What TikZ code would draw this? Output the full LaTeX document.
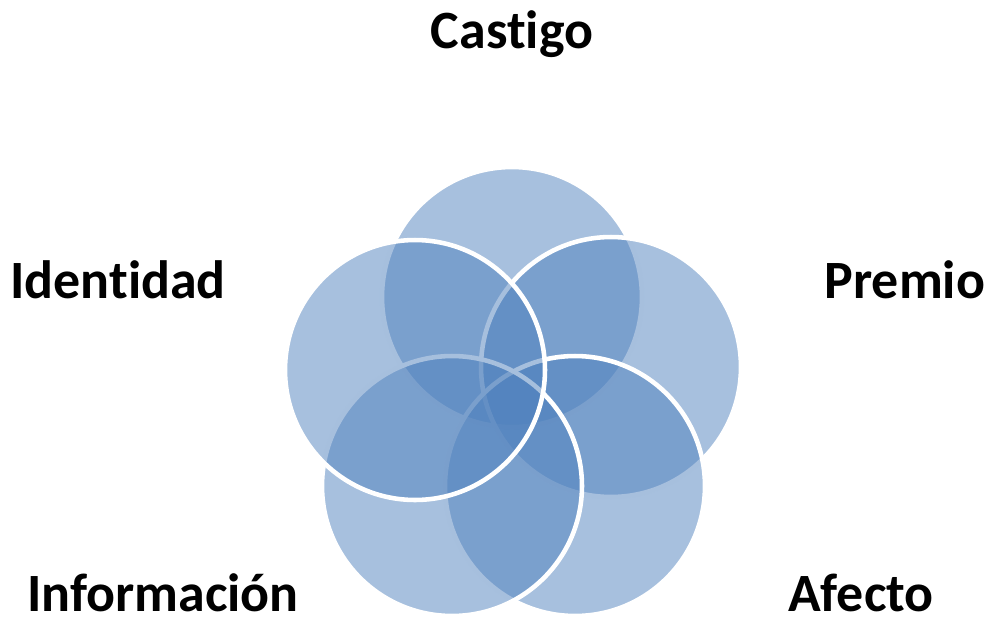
\documentclass[tikz,border=0pt]{standalone}
\usepackage{fontspec}
\setmainfont[Ligatures={NoCommon}]{Carlito}
\definecolor{petalblue}{HTML}{4F81BD}

\begin{document}
\begin{tikzpicture}[x=0.02cm, y=-0.02cm,
    petal/.style ={circle, draw=white, line width=2.6pt, fill=petalblue,
      fill opacity=0.5, minimum size=5.2cm, inner sep=0pt},
    tag/.style ={anchor=base, inner sep=0pt, font=\fontsize{30.7}{36}\selectfont\bfseries}]
   \useasboundingbox (0,0) rectangle (987,626);
   \node[petal] (castigo) at (512,297) {};
   \node[petal] (premio) at (611,367) {};
   \node[petal] (afecto) at (575,486) {};
   \node[petal] (informacion) at (452,486) {};
   \node[petal] (identidad) at (415,370) {};
   \node[tag] (tcastigo) at (512,48) {Castigo};
   \node[tag] (tpremio) at (905,298) {Premio};
   \node[tag] (tafecto) at (861,611) {Afecto};
   \node[tag] (tinformacion) at (163,611) {Información};
   \node[tag] (tidentidad) at (118,298) {Identidad};
 \end{tikzpicture}
\end{document}
